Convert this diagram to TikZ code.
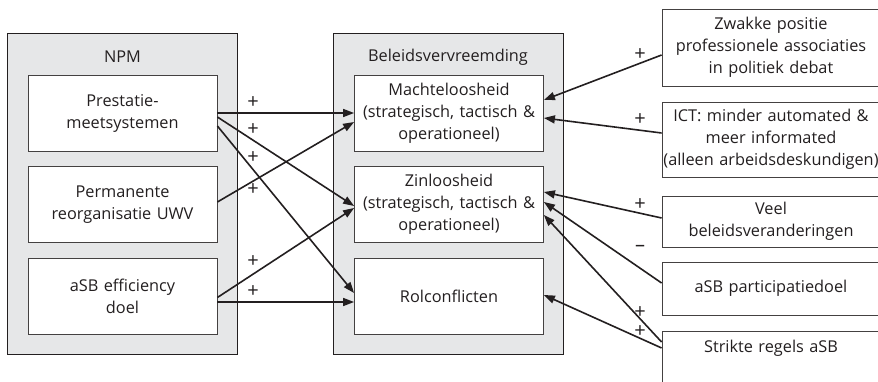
\documentclass[tikz,border=0pt]{standalone}
\usepackage{fontspec}
\setmainfont{Open Sans}
\usetikzlibrary{arrows.meta}
\definecolor{lijn}{HTML}{231F20}
\definecolor{grijs}{HTML}{E6E7E8}
\tikzset{
	groep/.style={draw=lijn, line width=0.8pt, fill=grijs, minimum width=230pt, minimum height=321pt, inner sep=0pt},
	factor/.style={draw=lijn!85, line width=0.8pt, fill=white, align=center, text width=186pt, minimum width=189pt, minimum height=76pt, inner sep=0pt},
	oorzaak/.style={draw=lijn!85, line width=0.8pt, fill=white, align=center, text width=216pt, minimum width=218pt, inner sep=0pt},
	pijl/.style={draw=lijn, line width=1.6pt, -{Triangle[length=11pt,width=8pt]}},
	teken/.style={font=\fontsize{20}{20}\selectfont, text=lijn, inner sep=0pt}
}
\begin{document}
\begin{tikzpicture}[x=1pt, y=-1pt, font=\fontsize{16.3}{22}\selectfont, text=lijn]
	\useasboundingbox (0,0) rectangle (878,382);
	\clip (0,0) rectangle (878,382);
	
	% groepen
	\node[groep] (npm) at (122.5,193.5) {};
	\node[groep] (bv) at (448,193.5) {};
	\node (npmtitel) at (122.5,57) {NPM};
	\node (bvtitel) at (448,57) {Beleidsvervreemding};
	
	% NPM
	\node[factor] (prest) at (122.5,113) {Prestatie-\\meetsystemen};
	\node[factor] (perm) at (122.5,204.5) {Permanente\\reorganisatie UWV};
	\node[factor] (eff) at (122.5,296) {aSB efficiency\\doel};
	
	% beleidsvervreemding
	\node[factor] (mach) at (449,113) {Machteloosheid\\(strategisch, tactisch \&\\operationeel)};
	\node[factor] (zin) at (449,204.5) {Zinloosheid\\(strategisch, tactisch \&\\operationeel)};
	\node[factor] (rol) at (449,296) {Rolconflicten};
	
	% oorzaken rechts
	\node[oorzaak, minimum height=77pt] (zwak) at (771,47.5) {Zwakke positie\\professionele associaties\\in politiek debat};
	\node[oorzaak, minimum height=75pt] (ict) at (771,139.5) {ICT: minder automated \&\\meer informated\\(alleen arbeidsdeskundigen)};
	\node[oorzaak, minimum height=51pt] (veel) at (771,221.5) {Veel\\beleidsveranderingen};
	\node[oorzaak, minimum height=53pt] (part) at (771,288.5) {aSB participatiedoel};
	\node[oorzaak, minimum height=54pt, text depth=23pt] (strikt) at (771,358) {Strikte regels aSB};
	
	% pijlen links
	\draw[pijl] (prest.east) -- (mach.west);
	\draw[pijl] ([yshift=-4pt]prest.east) -- ([yshift=-1.5pt]zin.west);
	\draw[pijl] ([yshift=-13pt]prest.east) -- ([yshift=3pt]rol.west);
	\draw[pijl] ([yshift=2.5pt]perm.east) -- ([yshift=-9pt]mach.west);
	\draw[pijl] ([yshift=-1.5pt]eff.east) -- ([yshift=-3.5pt]zin.west);
	\draw[pijl] ([yshift=-6pt]eff.east) -- ([yshift=-6pt]rol.west);
	
	% pijlen rechts
	\draw[pijl] ([yshift=-7.5pt]zwak.west) -- ([yshift=13pt]mach.east);
	\draw[pijl] ([yshift=6.5pt]ict.west) -- ([yshift=-5pt]mach.east);
	\draw[pijl] ([yshift=3.5pt]veel.west) -- ([yshift=12.5pt]zin.east);
	\draw[pijl] ([yshift=5.5pt]part.west) -- ([yshift=2.5pt]zin.east);
	\draw[pijl] ([yshift=16pt]strikt.west) -- ([yshift=-10.5pt]zin.east);
	\draw[pijl] ([yshift=10pt]strikt.west) -- ([yshift=1pt]rol.east);
	
	% tekens
	\foreach \y [count=\i] in {103,130,158,190,262,292}
		\node[teken] (tl\i) at (253,\y) {+};
	\foreach \y/\t [count=\i] in {55/+,120/+,205/+,248/--,313/+,332/+}
		\node[teken] (tr\i) at (640,\y) {\t};
\end{tikzpicture}
\end{document}
